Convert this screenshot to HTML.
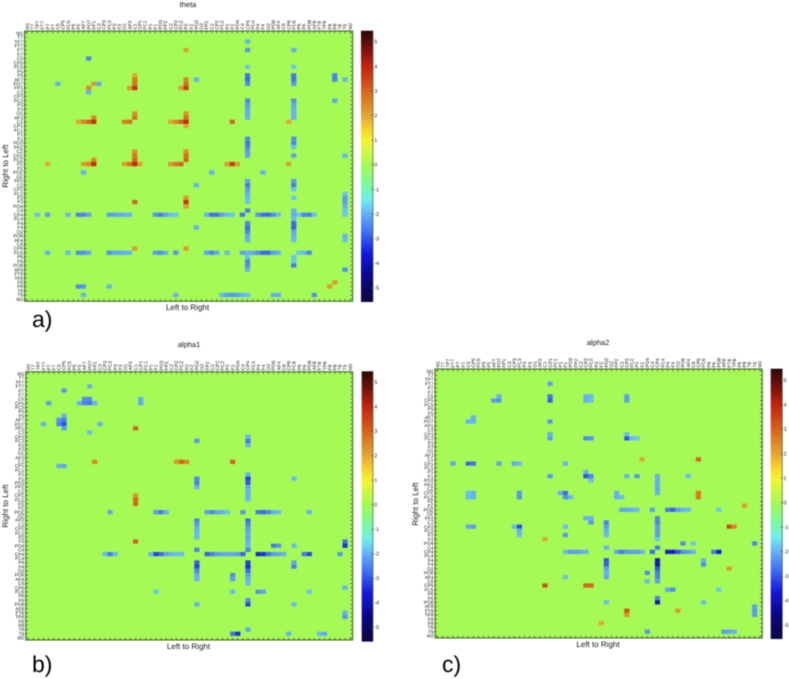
<!DOCTYPE html>
<html lang="en">
<head>
<meta charset="utf-8">
<title>Connectivity heatmaps: theta, alpha1, alpha2</title>
<style>
html,body{margin:0;padding:0;background:#fff;}
#figure{display:block;width:789px;height:679px;filter:blur(0.4px);font-family:"Liberation Sans",sans-serif;text-rendering:geometricPrecision;}
</style>
</head>
<body>
<svg id="figure" xmlns="http://www.w3.org/2000/svg" width="789" height="679" viewBox="0 0 789 679"></svg>
<script>
/* Electrode categories shared by both axes */
const electrodes = ["M1","T7","TP7","FT7","P7","F7","C5","CP5","FC5","P5","F5","AF7","PO7","FP1","C3","CP3","FC3","P3","F3","O1","AF3","C1","CP1","FC1","P1","F1","PO3","FPZ","CZ","CPZ","FCZ","PZ","FZ","POZ","OZ","FP2","C2","CP2","FC2","P2","F2","PO4","C4","CP4","FC4","P4","F4","O2","PO6","AF4","C6","CP6","FC6","P6","F6","PO8","AF8","FT8","TP8","F8","P8","T8","T9","M2"];

/* Colour bar tick labels */
const colorTicks = [5,4,3,2,1,0,-1,-2,-3,-4,-5];

/* Sparse matrices: [row index, first column index, value, value, ...] */
const thetaCells = [
[2,43,-2],[4,31,2.1],[4,43,-2.3],[4,52,-2],[6,12,-2.5],[8,43,-1.8],[8,52,-1.8],
[10,21,2],[10,43,-2.7],[10,52,-2.6],[10,60,-2.5],
[11,21,2.7],[11,31,2.5],[11,33,-2],[11,43,-2.8],[11,52,-2.7],[11,60,-2.5],[11,62,-2],
[12,6,-2],[12,13,2.2,-2.1],[12,21,2.8],[12,31,2.8],[12,43,-2.4],[12,52,-2.3],
[13,12,2.5],[13,20,2.3,3.8],[13,30,2.2,3.6],[14,12,-2],
[16,43,-2.5],[16,52,-2.4],[16,60,-2.2],[17,43,-2.2],[17,52,-2.1],[18,43,-2.1],[18,52,-2],
[19,21,2.3],[19,31,2.3],[19,43,-2],[19,52,-2],
[20,13,2.5],[20,21,2.8],[20,31,2.8],[20,43,-2],[20,52,-2],
[21,10,2,2.5,3,3.8],[21,19,2.6,2.8],[21,28,2,2.5,3,3.9],[21,40,3],[21,51,2],[22,31,2],
[25,43,-2.4],[25,52,-2.4],[26,43,-2.7],[26,52,-2.5],[27,43,-2.5],[27,52,-1.8],
[28,21,2.3],[28,31,2.3],[28,43,-2.2],
[29,21,2.7],[29,31,2.8],[29,43,-2.1],[29,52,-2.2],[29,62,-2],
[30,13,2.5],[30,21,3],[30,31,3],
[31,4,2],[31,11,2.2,2.5,3.9],[31,19,2.2,2.8,4,2.2],[31,28,2.3,2.8,3],[31,39,2.2,3.7,2.2],[31,51,2.2],
[33,11,-2],[33,36,-2],[33,46,-2],
[35,43,-2.1],[35,52,-2.2],[36,33,-2],[36,43,-2.6],[36,52,-2.6],[37,43,-2.2],[37,52,-1.8],
[38,43,-2],[38,62,-1.8],[39,31,2.3],[39,43,-1.9],[39,52,-1.8],[39,62,-2.2],
[40,21,3],[40,31,3.8],[40,43,-1.8],[40,62,-2.2],[41,31,2.2],[41,62,-2],
[42,43,-2.6],[42,52,-2],[42,62,-1.8],
[43,2,-1.9],[43,4,-2.2],[43,8,-1.9],[43,10,-2.5,-2.5,-2.1],[43,16,-2.2,-2.2,-2.1,-2,-2],[43,25,-2.3,-2.6,-2.2,-1.9,-1.8],[43,35,-2,-2.7,-2.7,-2.2,-1.9,-1.8],[43,42,-2.7],[43,45,-2.3,-2.7,-2.8,-2.4,-1.9],[43,52,-2.1,-1.8,-2.5,-2.6,-1.9],[43,62,-1.8],
[44,52,-1.9],[45,43,-2.5],[45,52,-2.8],[46,33,-2],[46,43,-2.8],[46,52,-2.9],[47,43,-2.5],[47,52,-2.1],
[48,43,-2.1],[48,52,-2],[48,62,-2],[49,43,-2],[49,52,-1.9],[49,62,-1.9],
[51,21,2.2],[51,31,2.2],
[52,4,-2],[52,8,-1.9],[52,10,-2.4,-2.4,-2.1],[52,16,-2.4,-2.1,-2.1,-2,-2],[52,25,-2.2,-2.4,-2],[52,29,-2.3],[52,35,-2.1,-2.5,-2.1],[52,39,-1.9],[52,42,-2.2,-2,-2.1,-2.4,-2.8,-2.8,-2.2,-2],[52,53,-1.8,-1.9,-2.5],
[53,43,-1.8],[53,52,-1.8],[54,43,-2.5],[54,52,-1.8],[55,43,-2.4],[55,52,-2.6],[56,43,-2],[56,62,-2.4],
[59,60,2.2],[60,10,-2.4,-2.3],[60,16,-2],[60,59,2.2],
[62,11,-2],[62,29,-2],[62,38,-1.9,-2.2,-2.3,-2.2,-2,-1.9],[62,48,-2,-2],[62,56,-2.4]
];

const alpha1Cells = [
[3,12,-2],[4,7,-2.3],[6,11,-2.4,-2.4],[6,22,-2],
[7,4,-2.2],[7,10,-2,-2.5,-2.6,-2],[7,22,-2.1],
[10,7,-2],[11,6,-2.3,-2.6],[12,3,-2],[12,6,-2.5,-3],[12,14,-2],[13,7,-2.2],[13,21,3],[14,12,-1.9],
[15,43,-2],[16,33,-2.3],[16,43,-2.6],[17,43,-2],
[21,13,2.5],[21,29,2.3,3,2.5],[21,40,3],[22,6,-2,-2.1],
[24,43,-2],[25,33,-2.5],[25,43,-3.2],[25,52,-1.9],[26,33,-2.6],[26,43,-3],[27,33,-2],[27,43,-2.1],
[28,43,-2],[29,21,2.3],[29,43,-2],[30,21,2.9],[30,43,-1.9],[31,21,3],
[33,16,-2.1],[33,25,-2.2,-2.6,-2],[33,35,-2.2,-2.5,-2.1,-2,-1.8],[33,42,-2.3],[33,45,-2.7,-2.8,-2.5,-2,-1.9],[33,55,-2],
[35,33,-2.5],[35,43,-2.8],[36,33,-2.2],[36,43,-2.5],[37,33,-2],[37,43,-2.2],[38,33,-1.9],[38,43,-2.1],[39,33,-1.9],[39,43,-2.1],
[40,21,3],[40,43,-2],[40,62,-2.7],[41,43,-1.9],[41,48,-2.6,-2.3],[41,52,-1.9],[41,62,-3.4],
[42,33,-2.5],[42,43,-2.5],
[43,15,-1.9,-2.6,-1.9],[43,24,-2,-3.2,-2.8,-2.2,-2,-1.9,-1.9],[43,35,-2.9,-2.6,-2.2,-2.1,-2.1,-2.1,-2.2,-2.9],[43,45,-3.5,-3.4,-2.7,-2.2,-2.1,-2],[43,54,-2.6,-3.2],[43,61,-2.3],
[45,33,-2.9],[45,43,-3.2],[45,52,-2.1],[46,33,-3.2],[46,43,-3.4],[46,52,-2.5],[47,33,-2.5],[47,43,-2.8],
[48,33,-2],[48,40,-2.4],[48,43,-2.2],[49,33,-2],[49,40,-2.2],[49,43,-2],[50,43,-1.9],
[51,62,-2],[52,25,-1.8],[52,40,-1.9],[52,45,-2.4,-2.1],[52,55,-1.8],
[54,43,-2.4],[55,33,-2],[55,43,-3.2],[55,52,-1.9],[57,62,-2],[58,62,-2.3],[61,43,-2.1],
[62,40,-2.7,-3.4],[62,51,-2],[62,57,-1.9,-2.1]
];

const alpha2Cells = [
[3,22,-2.2],[6,12,-2],[6,22,-2.7],[6,29,-2,-1.9],[6,37,-2.2],
[7,11,-2.2,-2.3],[7,22,-2.9],[7,29,-2,-1.9],[7,37,-2.2],
[11,7,-2],[12,6,-2,-2],[12,22,-2.3],
[15,22,-2],[15,37,-1.9],[16,22,-2.2],[16,29,-2.4,-2.3],[16,37,-3,-1.9,-1.8],
[21,40,2],[21,51,3],
[22,3,-2.1],[22,6,-2.8,-2.7],[22,12,-2.2],[22,15,-2.1,-1.9],[22,25,-2],
[24,29,-2],[25,22,-2.3],[25,29,-3,-2.5],[25,37,-2],[25,39,-2.3],[25,43,-2],[25,49,-1.9],[26,30,-1.9],[26,43,-2],[27,43,-2],[28,43,-2],
[29,6,-1.9,-2],[29,16,-2.3],[29,24,-2,-2.8],[29,35,-2],[29,43,-2],[29,51,2.7],
[30,6,-1.9,-2],[30,16,-2.3],[30,25,-2.4,-1.9],[30,35,-2,-1.9],[30,51,2.7],
[32,60,2.2],
[33,36,-2.1,-2.1,-2,-1.9],[33,42,-2.2],[33,45,-2.6,-2.9,-2.2,-2,-1.9],[33,55,-1.8],
[35,29,-2,-2],[35,43,-2.5],[36,30,-2.3],[36,33,-2.5],[36,43,-2.5],
[37,6,-2.1,-2.2],[37,15,-1.9,-3.1],[37,25,-1.9],[37,33,-2.2],[37,43,-2.2],[37,57,3.3,2.5],
[38,16,-2],[38,33,-2],[38,43,-2.2],[39,16,-1.9],[39,25,-2.3],[39,33,-1.9],[39,43,-2.2],
[40,21,2],[40,43,-1.8],[41,48,-2.4],[41,50,-1.8],[41,62,-2.5],
[42,33,-2],[42,43,-2.6],
[43,25,-1.9,-2.2,-2.2,-2.1,-2],[43,35,-2.1,-2.6,-2.3,-2.2,-2.2,-2],[43,42,-2.8],[43,45,-3.6,-3.7,-3,-2.4,-2.2,-2],[43,54,-2.6,-3.6],
[45,33,-3],[45,43,-3.8],[45,52,-2],[46,33,-2.9],[46,43,-3.8],[46,52,-2.4],
[47,33,-2.2],[47,43,-3],[47,57,2.2],[48,33,-2],[48,41,-2.4],[48,43,-2.6],[49,25,-1.9],[49,33,-2.1],[49,43,-2.5],[50,41,-1.9],[50,43,-2.2],
[51,21,3.3],[51,29,3,3],[52,45,-2.1,-2.4],[52,55,-1.8],
[54,43,-2.5],[55,33,-1.9],[55,43,-3.8],[55,52,-1.9],
[56,62,-2.2],[57,37,3.2],[57,47,2.2],[57,62,-2.3],[58,37,2.3],[58,62,-2.2],
[60,32,2],[62,41,-2.3],[62,56,-2.2,-2.1,-2]
];

/* Colour scale: value and matching RGB */
const scaleValues = [-5.43,-4.5,-3.6,-2.8,-2,-1.4,-0.7,0,1,1.5,2,2.7,3.5,4,4.6,5.43];
const scaleColors = [[12,4,70],[10,5,140],[20,25,220],[60,105,242],[100,175,250],[110,240,235],[125,250,150],[165,250,85],[245,245,45],[245,205,40],[228,165,50],[218,120,32],[205,65,20],[195,35,15],[130,20,10],[45,8,8]];

function colorFor(v){
  if(v<=scaleValues[0]) return 'rgb('+scaleColors[0].join(',')+')';
  for(let i=1;i<scaleValues.length;i++){
    if(v<=scaleValues[i]){
      const t=(v-scaleValues[i-1])/(scaleValues[i]-scaleValues[i-1]);
      const a=scaleColors[i-1], b=scaleColors[i];
      return 'rgb('+[0,1,2].map(k=>Math.round(a[k]+(b[k]-a[k])*t)).join(',')+')';
    }
  }
  return 'rgb('+scaleColors[scaleColors.length-1].join(',')+')';
}

const svg=document.getElementById('figure');
const NS='http://www.w3.org/2000/svg';
function make(parent,tag,attrs,text){
  const el=document.createElementNS(NS,tag);
  for(const k in attrs) el.setAttribute(k,attrs[k]);
  if(text!==undefined) el.textContent=text;
  parent.appendChild(el);
  return el;
}

function drawPanel(p){
  const g=make(svg,'g',{});
  
  
  const n=electrodes.length;
  const xScale=c=>p.left+(p.right-p.left)*c/n;
  const yScale=r=>p.top+(p.bottom-p.top)*r/n;
  const cw=(p.right-p.left)/n, ch=(p.bottom-p.top)/n;

  const bg=make(g,'rect',{x:p.left,y:p.top,width:p.right-p.left,height:p.bottom-p.top,fill:colorFor(0)});
  
  

  p.cells.forEach(run=>{
    const row=run[0], first=run[1];
    run.slice(2).forEach((value,i)=>{
      const cell=make(g,'rect',{x:xScale(first+i),y:yScale(row),width:cw+0.05,height:ch+0.05,fill:colorFor(value)});
      
      
    });
  });

  const frame=make(g,'rect',{x:p.left,y:p.top,width:p.right-p.left,height:p.bottom-p.top,fill:'none',stroke:'#2f4f1c','stroke-width':0.9});
  
  

  electrodes.forEach((label,i)=>{
    const cx=xScale(i+0.5), cy=yScale(i+0.5);
    const tick=make(g,'path',{d:`M${cx} ${p.top}v2.2M${cx} ${p.bottom}v-2.2M${p.left} ${cy}h2.2M${p.right} ${cy}h-2.2`,stroke:'#2f4f1c','stroke-width':0.7,fill:'none'});
    
    

    const top=make(g,'text',{x:0,y:0,transform:`translate(${cx+1.7} ${p.top-1.5}) rotate(-90)`,'font-size':4.8,fill:'#111'},label);
    
    

    const left=make(g,'text',{x:p.left-1.5,y:cy+1.7,'text-anchor':'end','font-size':4.8,fill:'#111'},label);
    
    
  });

  const title=make(g,'text',{x:p.titleX,y:p.titleY,'text-anchor':'middle','font-size':7.5,fill:'#111'},p.title);
  
  

  const xl=make(g,'text',{x:p.xLabelX,y:p.xLabelY,'text-anchor':'middle','font-size':8,fill:'#111'},'Left to Right');
  
  

  const yl=make(g,'text',{x:0,y:0,transform:`translate(${p.yLabelX} ${p.yLabelY}) rotate(-90)`,'text-anchor':'middle','font-size':8,fill:'#111'},'Right to Left');
  
  

  const letter=make(g,'text',{x:p.letterX,y:p.letterY,'font-size':23,fill:'#000'},p.letter);
  
  

  /* colour bar */
  const valueY=v=>p.barZero-v*p.barUnit;
  const steps=96, vMin=(p.barZero-p.barBottom)/p.barUnit, vMax=(p.barZero-p.barTop)/p.barUnit;
  const bar=make(g,'g',{});
  
  
  for(let i=0;i<steps;i++){
    const hi=vMax-(vMax-vMin)*i/steps, lo=vMax-(vMax-vMin)*(i+1)/steps;
    const s=make(bar,'rect',{x:p.barLeft,y:valueY(hi),width:p.barRight-p.barLeft,height:valueY(lo)-valueY(hi)+0.3,fill:colorFor((hi+lo)/2)});
    
    
  }
  const edge=make(bar,'path',{d:`M${p.barRight} ${p.barTop}V${p.barBottom}`,stroke:'#2c4a22','stroke-width':0.6,fill:'none'});
  
  
  colorTicks.forEach(v=>{
    const y=valueY(v);
    const t=make(bar,'path',{d:`M${p.barRight} ${y}h-1.5`,stroke:'#222','stroke-width':0.6,fill:'none'});
    
    
    const lab=make(bar,'text',{x:p.barRight+1.2,y:y+2,'font-size':5.5,fill:'#222'},v<0?'-'+(-v):String(v));
    
    
  });
}

drawPanel({name:'theta',title:'theta',letter:'a)',cells:thetaCells,left:24.5,right:352.7,top:31,bottom:301.3,
  titleX:188,titleY:7,xLabelX:187.5,xLabelY:310,yLabelX:8,yLabelY:166,letterX:32,letterY:327,
  barLeft:361,barRight:373,barTop:30.7,barBottom:301.7,barZero:164.7,barUnit:24.6});
drawPanel({name:'alpha1',title:'alpha1',letter:'b)',cells:alpha1Cells,left:25.7,right:352.7,top:371.7,bottom:640,
  titleX:189,titleY:347,xLabelX:188.5,xLabelY:649,yLabelX:8,yLabelY:506,letterX:32,letterY:672,
  barLeft:361.7,barRight:373,barTop:371.3,barBottom:641.3,barZero:504.7,barUnit:24.5});
drawPanel({name:'alpha2',title:'alpha2',letter:'c)',cells:alpha2Cells,left:435,right:762.3,top:369,bottom:638,
  titleX:598,titleY:345,xLabelX:598,xLabelY:647,yLabelX:418,yLabelY:504,letterX:442,letterY:672,
  barLeft:770.7,barRight:782.3,barTop:368.7,barBottom:638.7,barZero:502.7,barUnit:24.5});
</script>
</body>
</html>
